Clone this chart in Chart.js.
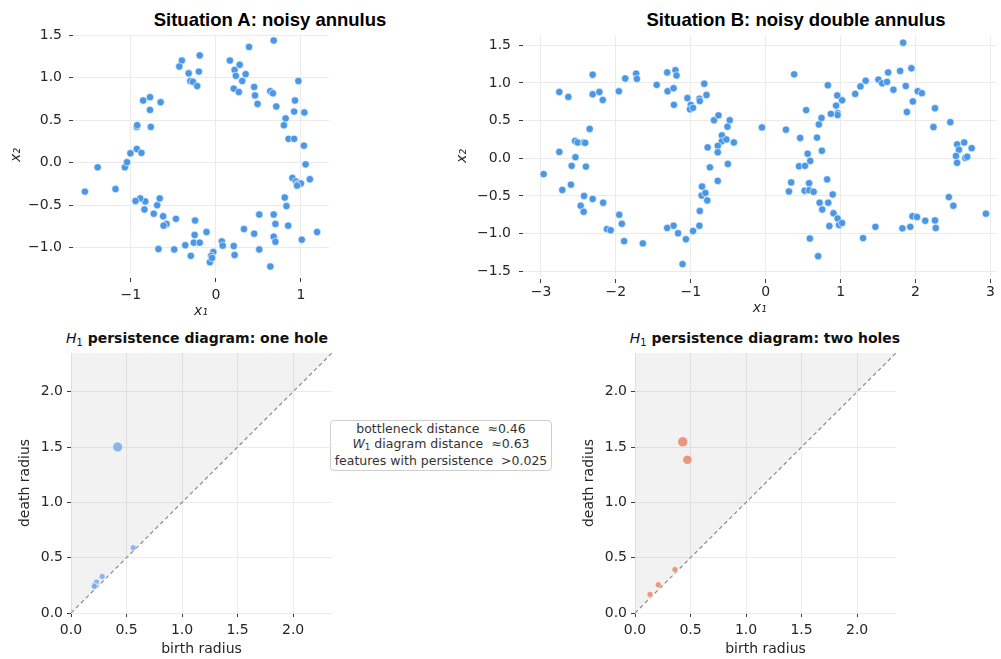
<!DOCTYPE html>
<html>
<head>
<meta charset="utf-8">
<script src="https://cdn.jsdelivr.net/npm/chart.js@4.4.0/dist/chart.umd.min.js"></script>
<style>
  html, body { margin: 0; padding: 0; background: #fff; overflow: hidden; }
  body { width: 1001px; height: 659px; position: relative; }
  canvas { position: absolute; }
  .ttl { position: absolute; white-space: nowrap; transform: translateX(-50%); color: #000; }
  .top { font: bold 18.5px "Liberation Sans", Arial, sans-serif; top: 9px; }
  .bot { font: bold 14px "DejaVu Sans", sans-serif; top: 330px; color: #111; }
  .bot i { font-weight: normal; }
  .sub { font-size: 70%; position: relative; top: 3px; font-weight: normal; font-style: normal; }
  .note {
    position: absolute; left: 330px; top: 420px; width: 220px;
    border: 1px solid #cfcfcf; border-radius: 4px; background: #fff;
    font: 12.5px "DejaVu Sans", sans-serif; line-height: 15px; color: #333;
    text-align: center; padding-bottom: 2px;
  }
</style>
</head>
<body>
<div class="ttl top" style="left:270px">Situation A: noisy annulus</div>
<div class="ttl top" style="left:796px">Situation B: noisy double annulus</div>
<div class="ttl bot" style="left:197px"><i>H</i><span class="sub">1</span> persistence diagram: one hole</div>
<div class="ttl bot" style="left:765px"><i>H</i><span class="sub">1</span> persistence diagram: two holes</div>
<div class="note">bottleneck distance &nbsp;≈0.46<br><i>W</i><span class="sub" style="top:2px">1</span> diagram distance &nbsp;≈0.63<br>features with persistence &nbsp;&gt;0.025</div>

<canvas id="chartA" width="335" height="320" style="left:0;top:0"></canvas>
<canvas id="chartB" width="561" height="318" style="left:440px;top:0"></canvas>
<canvas id="chartC" width="340" height="329" style="left:0;top:330px"></canvas>
<canvas id="chartD" width="340" height="329" style="left:570px;top:330px"></canvas>

<script>
// Situation A: one noisy annulus
var annulusX = [0.68, 0.39, -0.19, -0.40, -0.43, -0.20, -0.32, -0.30, -0.27, -0.22,
  0.165, 0.22, 0.28, 0.235, 0.35, 0.31, 0.21, 0.27, 0.45, 0.46,
  0.49, 0.64, 0.67, 0.71, 0.97, 0.93, 0.92, 1.04, 0.82, 0.80,
  0.855, 0.92, 1.035, 1.055, 0.90, 0.94, 0.96, 1.00, 1.105, 0.955,
  0.81, 0.83, 0.85, 1.19, 1.01, 0.68, 0.70, 0.51, 0.68, 0.70,
  0.64, 0.51, 0.45, 0.33, 0.21, 0.22, 0.07, 0.08, -0.03, -0.055,
  -0.07, -0.045, -0.11, -0.245, -0.25, -0.26, -0.19, -0.295, -0.36, -0.49,
  -0.47, -0.675, -0.58, -0.615, -0.62, -0.73, -0.69, -0.66, -0.84, -0.83,
  -0.89, -0.945, -1.18, -1.54, -1.39, -1.07, -1.045, -1.005, -0.93, -0.875,
  -0.93, -0.925, -0.765, -0.775, -0.775, -0.855, -0.65];
var annulusY = [1.435, 1.36, 1.26, 1.20, 1.13, 1.07, 1.05, 0.96, 0.95, 0.90,
  1.20, 1.09, 1.15, 1.02, 1.04, 0.96, 0.87, 0.83, 0.89, 0.79,
  0.69, 0.84, 0.815, 0.66, 0.96, 0.73, 0.60, 0.59, 0.52, 0.44,
  0.28, 0.28, 0.20, -0.02, -0.18, -0.22, -0.25, -0.245, -0.195, -0.27,
  -0.41, -0.51, -0.74, -0.815, -0.905, -0.61, -0.72, -0.61, -0.87, -0.93,
  -1.22, -1.02, -0.835, -0.78, -0.98, -1.085, -0.925, -0.975, -1.05, -1.095,
  -1.17, -1.12, -0.815, -0.68, -0.85, -0.94, -0.94, -1.095, -0.97, -1.02,
  -0.66, -1.015, -0.72, -0.74, -0.63, -0.60, -0.50, -0.42, -0.55, -0.455,
  -0.42, -0.45, -0.31, -0.34, -0.055, -0.055, 0.005, 0.11, 0.16, 0.115,
  0.42, 0.44, 0.42, 0.62, 0.77, 0.73, 0.71];

// Situation B: two noisy annuli side by side
var doubleX = [-2.965, -2.755, -2.715, -2.755, -2.635, -2.31, -2.31, -2.22, -2.175, -2.35,
  -2.545, -2.51, -2.43, -2.41, -2.54, -2.59, -2.40, -2.60, -2.425, -2.31,
  -2.47, -2.43, -2.17, -1.955, -1.92, -2.12, -2.07, -1.89, -1.64, -1.96,
  -1.875, -1.73, -1.72, -1.455, -1.315, -1.31, -1.23, -1.205, -1.19, -1.225,
  -1.045, -1.00, -1.01, -0.97, -0.885, -0.88, -0.82, -0.79, -0.69, -0.63,
  -0.48, -0.51, -0.585, -0.585, -0.525, -0.425, -0.775, -0.64, -0.64, -0.505,
  -0.745, -0.64, -0.85, -0.855, -0.805, -0.78, -0.88, -0.885, -0.97, -1.065,
  -1.11, -1.17, -1.23, -1.315,
  -0.05, 0.27, 0.38, 0.46, 0.54, 0.685, 0.71, 0.745, 0.75, 0.56,
  0.595, 0.445, 0.525, 0.34, 0.31, 0.52, 0.58, 0.58, 0.64, 0.82,
  0.895, 0.72, 0.755, 0.835, 0.905, 0.96, 0.98, 1.02, 0.85, 0.59,
  0.70, 0.83, 0.955, 0.94, 1.02, 0.96, 0.96, 0.87, 1.195, 1.265,
  1.335, 1.505, 1.555, 1.62, 1.635, 1.705, 1.795, 1.835, 1.87, 1.945,
  2.03, 2.085, 1.965, 1.885, 2.26, 2.24, 2.465, 2.555, 2.65, 2.58,
  2.75, 2.54, 2.665, 2.69, 2.555, 2.445, 2.505, 2.94, 1.96, 2.02,
  2.13, 2.26, 2.27, 1.93, 1.825, 1.465, 1.30];
var doubleY = [-0.21, 0.085, -0.42, 0.88, 0.815, 1.11, 0.85, 0.88, 0.775, 0.39,
  0.23, 0.21, 0.21, 0.205, 0.015, -0.10, -0.11, -0.35, -0.50, -0.54,
  -0.63, -0.71, -0.59, -0.75, -0.87, -0.94, -0.955, -1.10, -1.13, 0.89,
  1.06, 1.125, 1.055, 0.975, 1.14, 0.89, 0.93, 1.17, 1.10, 0.71,
  0.80, 0.71, 0.65, 0.67, 0.79, 0.76, 0.99, 0.84, 0.505, 0.57,
  0.505, 0.42, 0.305, 0.225, 0.25, 0.21, 0.145, 0.165, 0.08, -0.075,
  -0.12, -0.30, -0.375, -0.495, -0.46, -0.56, -0.70, -0.895, -0.965, -1.075,
  -1.405, -0.995, -0.895, -0.925,
  0.41, 0.38, 1.115, 0.27, 0.64, 0.275, 0.45, 0.535, 0.10, 0.06,
  -0.035, -0.105, -0.10, -0.32, -0.44, -0.43, -0.33, -0.425, -0.445, -0.28,
  -0.48, -0.59, -0.68, -0.59, -0.73, -0.80, -0.885, -0.86, -0.90, -1.065,
  -1.30, 0.97, 0.835, 0.70, 0.77, 0.60, 0.575, 0.59, 0.855, 0.955,
  1.03, 1.045, 0.995, 1.015, 1.14, 0.91, 1.16, 1.535, 0.96, 1.195,
  0.89, 0.865, 0.755, 0.615, 0.665, 0.415, 0.48, 0.185, 0.21, 0.115,
  0.135, 0.03, 0.005, 0.02, -0.06, -0.515, -0.63, -0.735, -0.77, -0.78,
  -0.83, -0.825, -0.925, -0.91, -0.93, -0.91, -1.06];

// H1 persistence pairs (birth, death)
var oneHoleBirth = [0.42, 0.56, 0.28, 0.23, 0.21, 0.21];
var oneHoleDeath = [1.50, 0.59, 0.33, 0.28, 0.25, 0.24];
var twoHolesBirth = [0.43, 0.472, 0.36, 0.21, 0.135];
var twoHolesDeath = [1.547, 1.385, 0.393, 0.255, 0.168];

// tick values
var ticksAX = [-1, 0, 1];
var ticksAY = [-1.0, -0.5, 0.0, 0.5, 1.0, 1.5];
var ticksBX = [-3, -2, -1, 0, 1, 2, 3];
var ticksBY = [-1.5, -1.0, -0.5, 0.0, 0.5, 1.0, 1.5];
var ticksPD = [0.0, 0.5, 1.0, 1.5, 2.0];
var pdLimit = 2.35;

var BLUE = '#4a97e6';

function fmt(dec) {
  return function (v) { return (v < 0 ? '\u2212' : '') + Math.abs(v).toFixed(dec); };
}
function pts(xs, ys) {
  return xs.map(function (x, i) { return {x: x, y: ys[i]}; });
}

function axis(o) {
  return {
    type: 'linear',
    position: o.pos,
    min: o.min,
    max: o.max,
    afterBuildTicks: function (s) { s.ticks = o.ticks.map(function (v) { return {value: v}; }); },
    afterFit: function (s) { if (o.pos === 'left') s.width = o.size; else s.height = o.size; },
    grid: {
      color: '#ebebeb', lineWidth: 1,
      tickColor: '#3a3a3a', tickWidth: 1, tickLength: o.tl,
      tickBorderDash: o.dash || []
    },
    border: { display: false },
    ticks: {
      padding: o.pad, color: '#262626', autoSkip: false, maxRotation: 0,
      font: { family: 'DejaVu Sans', size: 14 },
      callback: fmt(o.dec)
    },
    title: {
      display: true, text: o.title, color: '#262626',
      font: { family: 'DejaVu Sans', size: 14, style: o.italic ? 'italic' : 'normal' },
      padding: o.tpad
    }
  };
}

function baseOptions(pad, scales) {
  return {
    responsive: false,
    devicePixelRatio: 1,
    animation: false,
    events: [],
    layout: { padding: pad },
    plugins: { legend: { display: false }, tooltip: { enabled: false }, title: { display: false } },
    scales: scales
  };
}

// top left
new Chart(document.getElementById('chartA'), {
  type: 'scatter',
  data: { datasets: [{
    data: pts(annulusX, annulusY),
    backgroundColor: BLUE, borderColor: '#ffffff', borderWidth: 0.6, pointRadius: 3.7
  }] },
  options: baseOptions({ left: 0, top: 35, right: 6, bottom: 0 }, {
    x: axis({ pos: 'bottom', min: -1.68, max: 1.33, ticks: ticksAX, dec: 0, size: 45, tl: 7, dash: [0, 3, 4, 100], pad: 5,
              title: 'x\u2081', italic: true, tpad: { top: 0, bottom: 0 } }),
    y: axis({ pos: 'left', min: -1.32, max: 1.5, ticks: ticksAY, dec: 1, size: 73, tl: 4, pad: 7,
              title: 'x\u2082', italic: true, tpad: { top: 8, bottom: 0 } })
  })
});

// top right
new Chart(document.getElementById('chartB'), {
  type: 'scatter',
  data: { datasets: [{
    data: pts(doubleX, doubleY),
    backgroundColor: BLUE, borderColor: '#ffffff', borderWidth: 0.6, pointRadius: 3.7
  }] },
  options: baseOptions({ left: 0, top: 36, right: 3, bottom: 0 }, {
    x: axis({ pos: 'bottom', min: -3.24, max: 3.08, ticks: ticksBX, dec: 0, size: 42, tl: 7, dash: [0, 3, 4, 100], pad: 1,
              title: 'x\u2081', italic: true, tpad: { top: 0, bottom: 1 } }),
    y: axis({ pos: 'left', min: -1.563, max: 1.624, ticks: ticksBY, dec: 1, size: 83, tl: 4, pad: 8,
              title: 'x\u2082', italic: true, tpad: { top: 14, bottom: 0 } })
  })
});

function persistenceChart(id, births, deaths, color, yWidth, yTitlePad, padRight) {
  var diag = [{ x: 0, y: 0 }, { x: pdLimit, y: pdLimit }];
  return new Chart(document.getElementById(id), {
    type: 'scatter',
    data: { datasets: [
      {
        data: pts(births, deaths),
        order: 0,
        backgroundColor: color, borderColor: '#ffffff', borderWidth: 0.5,
        pointRadius: function (ctx) {
          var p = ctx.raw;
          return p ? 2.9 + 1.9 * (p.y - p.x) : 3;
        }
      },
      {
        type: 'line',
        data: diag,
        order: 1,
        borderColor: '#8a8a8a', borderWidth: 1.2, borderDash: [4, 3],
        backgroundColor: 'rgba(0,0,0,0.05)', fill: 'end',
        pointRadius: 0, tension: 0
      }
    ] },
    options: baseOptions({ left: 0, top: 23, right: padRight, bottom: 0 }, {
      x: axis({ pos: 'bottom', min: 0, max: pdLimit, ticks: ticksPD, dec: 1, size: 46, tl: 4, pad: 5,
                title: 'birth radius', tpad: { top: 0, bottom: 1 } }),
      y: axis({ pos: 'left', min: 0, max: pdLimit, ticks: ticksPD, dec: 1, size: yWidth, tl: 4, pad: 4,
                title: 'death radius', tpad: { top: yTitlePad, bottom: 0 } })
    })
  });
}

persistenceChart('chartC', oneHoleBirth, oneHoleDeath, 'rgba(110,168,234,0.8)', 71, 17, 8);
persistenceChart('chartD', twoHolesBirth, twoHolesDeath, 'rgba(232,140,116,0.9)', 65, 11, 14);
</script>
</body>
</html>
